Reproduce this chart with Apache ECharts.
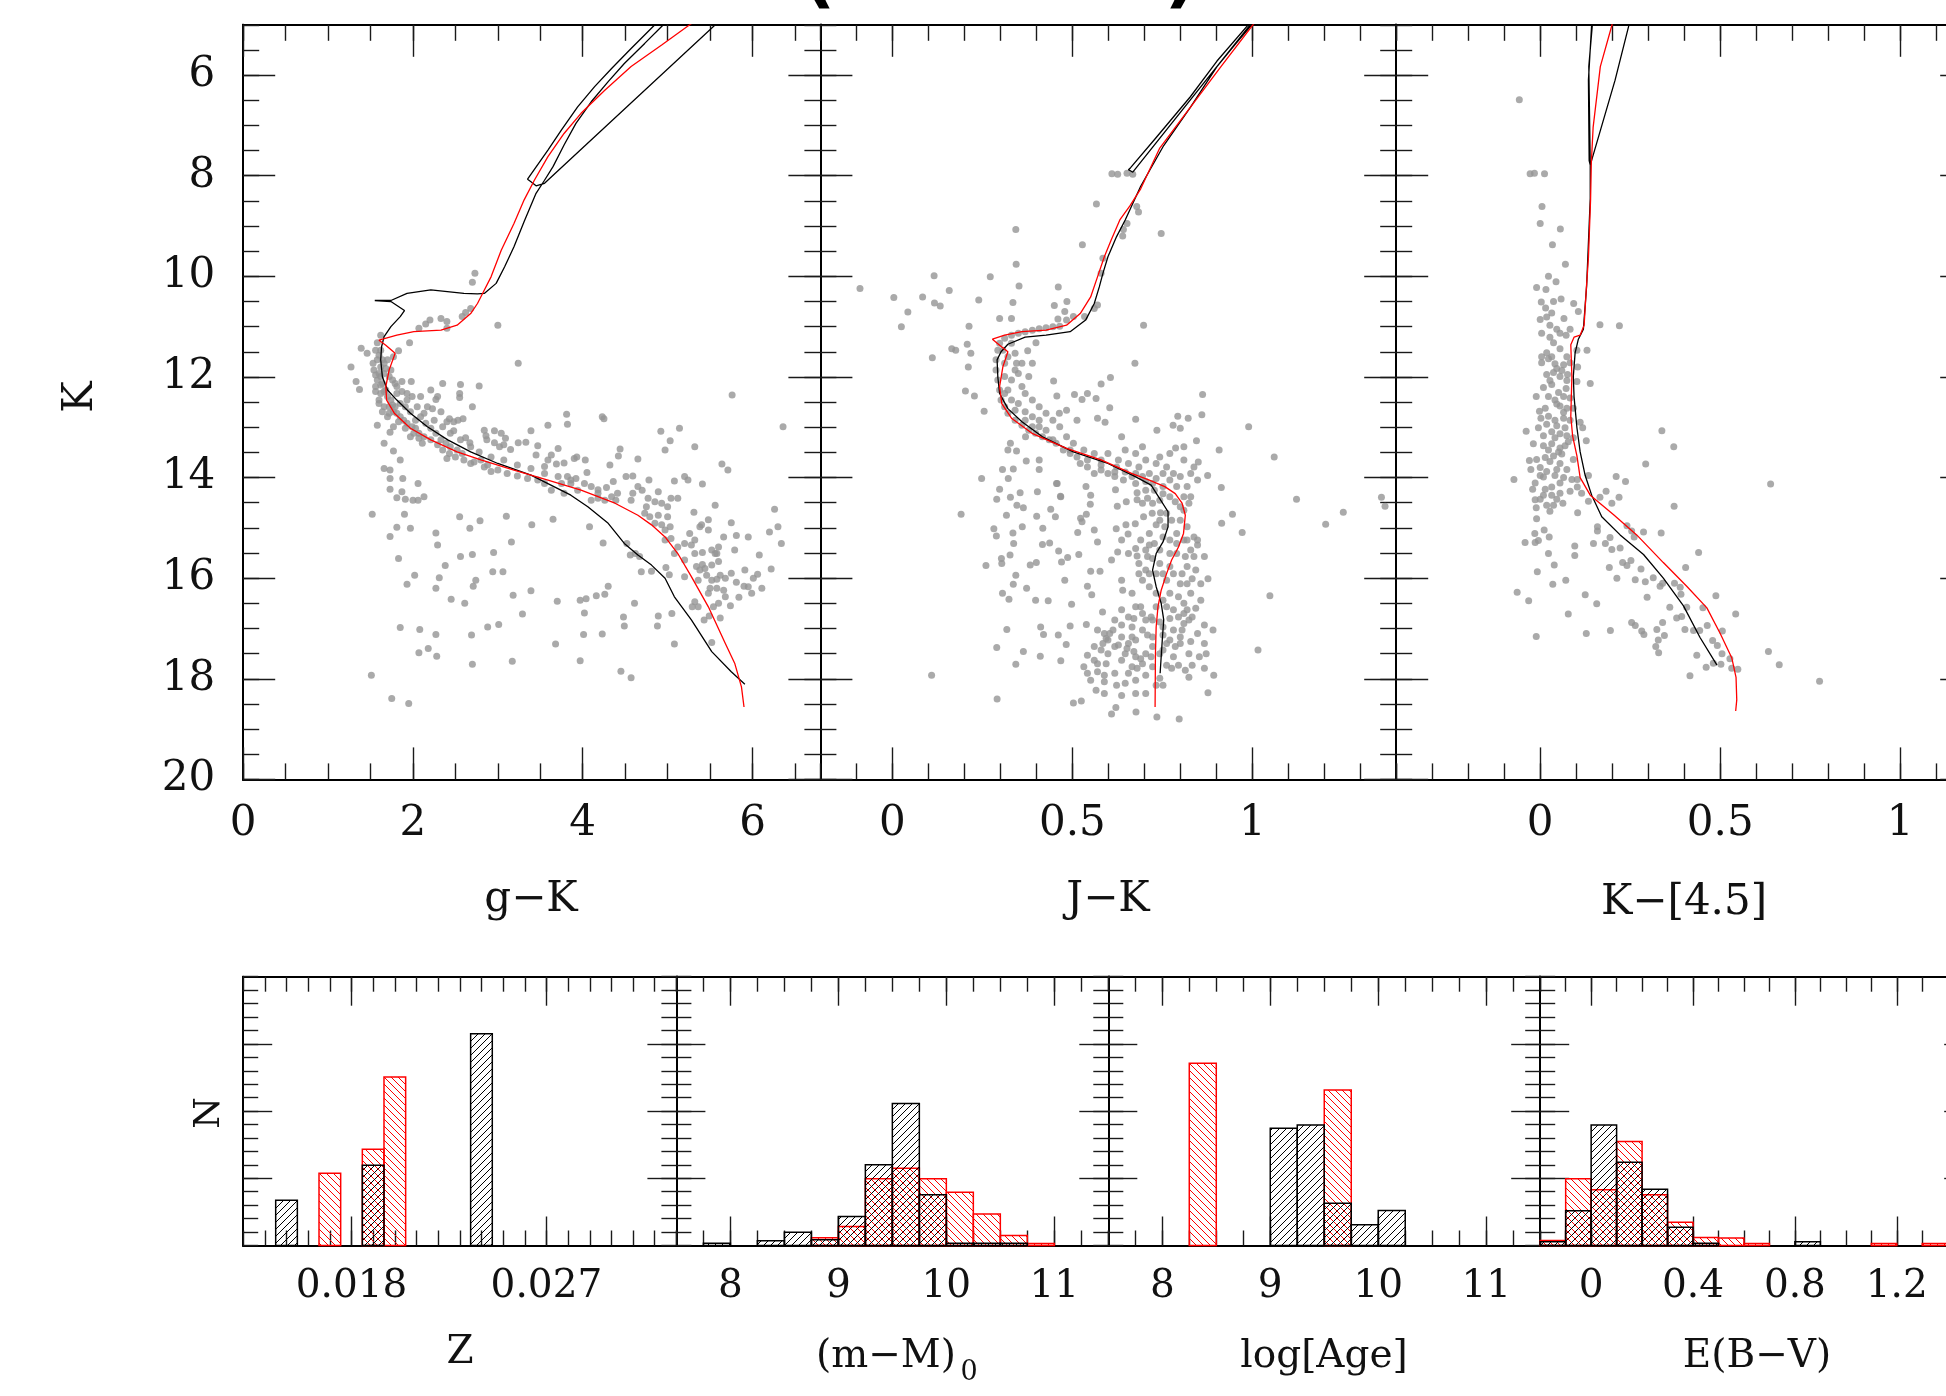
<!DOCTYPE html>
<html>
<head>
<meta charset="utf-8">
<title>Isochrone fits</title>
<script src="https://cdn.jsdelivr.net/npm/echarts@6/dist/echarts.min.js"></script>
<style>
  html, body { margin: 0; padding: 0; background: #fff; overflow: hidden; }
  /* wider than the window: the right-most panels run past the page edge, as in the original */
  #chart { width: 2000px; height: 1396px; }
</style>
</head>
<body>
<div id="chart"></div>
<script>
// ---------------- data: colour-magnitude diagrams (K vs colour) ----------------
const gkStars = [[2.73,9.94],[2.70,10.12],[2.68,10.64],[2.62,10.72],[2.58,10.80],[2.40,10.90],[2.33,10.84],[2.20,10.87],[2.15,10.95],[2.07,11.03],[2.40,11.03],[3.00,10.97],[1.96,11.32],[1.62,11.17],[1.58,11.32],[1.39,11.43],[1.46,11.53],[1.27,11.80],[1.33,12.09],[1.37,12.25],[3.24,11.73],[1.83,11.48],[1.77,11.60],[1.53,11.73],[1.54,11.86],[1.62,11.80],[1.66,11.93],[1.58,12.06],[1.56,12.19],[1.62,12.33],[1.60,12.46],[1.66,12.59],[1.72,12.72],[1.58,12.96],[1.66,13.32],[1.73,13.10],[1.77,13.47],[1.85,13.65],[1.66,13.82],[1.73,13.85],[1.73,14.02],[1.73,14.23],[1.88,14.02],[1.87,14.28],[1.81,14.40],[1.91,14.43],[2.00,14.45],[2.06,14.45],[2.13,14.38],[2.06,14.12],[1.52,14.73],[1.90,14.73],[1.97,15.01],[1.81,14.99],[1.73,15.17],[1.83,15.61],[2.27,15.10],[2.29,15.34],[2.02,15.94],[1.93,16.12],[2.38,15.75],[2.31,15.99],[2.27,16.20],[2.45,16.42],[2.61,16.50],[2.74,16.04],[2.71,16.16],[2.55,14.78],[2.67,15.01],[2.79,14.86],[2.56,15.57],[2.70,15.53],[2.95,15.49],[2.94,15.87],[3.06,15.87],[3.10,14.77],[3.16,15.28],[3.40,14.94],[3.65,14.83],[3.18,16.34],[3.39,16.25],[3.29,16.71],[3.70,16.46],[3.97,16.44],[4.04,16.41],[4.16,16.35],[4.26,16.32],[4.30,16.16],[4.02,16.69],[1.85,16.98],[2.08,17.02],[2.27,17.12],[2.69,17.13],[2.88,16.97],[3.01,16.92],[2.07,17.48],[2.18,17.40],[2.28,17.55],[2.70,17.71],[3.17,17.65],[3.68,17.31],[3.97,17.64],[4.01,17.12],[4.23,17.11],[4.48,16.77],[4.49,16.95],[4.45,17.85],[4.57,17.98],[4.61,16.50],[4.88,16.95],[4.89,16.75],[5.08,17.31],[1.51,17.93],[1.75,18.39],[1.95,18.49],[5.05,16.70],[4.98,15.79],[5.02,15.93],[4.69,15.87],[4.81,15.86],[4.56,15.54],[4.62,15.51],[4.67,15.57],[4.52,15.31],[4.24,15.30],[4.08,14.98],
  [1.81,12.19],[1.87,12.09],[1.98,12.09],[1.93,12.33],[1.99,12.39],[2.09,12.39],[2.21,12.26],[2.35,12.13],[2.56,12.15],[2.78,12.18],[2.55,12.33],[2.55,12.41],[2.29,12.39],[2.27,12.45],[2.17,12.59],[2.23,12.63],[2.33,12.69],[2.40,12.89],[2.48,12.89],[2.53,12.86],[2.59,12.83],[2.70,12.59],[2.43,12.83],[2.48,13.07],[2.62,13.21],[2.67,13.31],[2.84,13.06],[2.86,13.17],[2.96,13.07],[3.04,13.12],[3.09,13.22],[2.96,13.31],[2.87,13.25],[3.02,13.39],[3.07,13.35],[3.15,13.44],[3.24,13.31],[3.33,13.30],[3.39,13.07],[3.47,13.37],[3.59,12.96],[3.81,12.74],[3.82,12.94],[4.23,12.79],[4.25,12.83],[3.71,13.42],[3.63,13.55],[3.59,13.65],[3.45,13.55],[3.55,13.78],[3.69,13.73],[3.78,13.71],[3.90,13.62],[3.93,13.59],[4.03,13.65],[4.05,13.90],[3.92,14.02],[3.82,13.98],[3.75,14.12],[3.86,14.12],[3.63,14.25],[3.78,14.31],[3.94,14.25],[4.10,14.18],[4.18,14.24],[4.28,14.20],[4.36,14.08],[4.42,13.57],[4.44,13.43],[4.65,13.63],[4.32,13.75],[4.10,14.45],[4.18,14.41],[4.26,14.45],[4.34,14.38],[4.39,14.45],[4.51,13.98],[4.59,13.97],[4.78,14.05],[4.89,14.28],[5.08,14.07],[5.20,13.98],[5.24,14.05],[5.41,14.13],[5.32,13.39],[5.14,13.02],[4.92,13.08],[5.03,13.27],[4.97,13.45],[4.65,14.18],[4.59,14.31],[4.70,14.25],[4.77,14.41],[4.85,14.48],[4.93,14.51],[5.00,14.58],[5.04,14.41],[5.12,14.41],[4.75,14.58],[4.79,14.78],[4.89,14.75],[5.00,14.78],[4.93,14.94],[5.03,14.98],[4.97,15.04],[5.04,15.21],[5.12,15.38],[5.20,15.31],[5.28,15.34],[5.32,15.51],[5.41,15.49],[5.52,15.44],[5.60,15.38],[5.56,15.51],[5.31,14.69],[5.38,14.98],[5.40,14.94],[5.48,14.84],[5.56,14.55],[5.48,15.04],[5.26,15.11],[5.32,15.24],[5.75,14.90],[5.66,15.18],[5.81,15.15],[5.64,13.73],[5.71,13.85],[5.76,12.36],[6.36,12.99],[6.26,14.63],[6.30,14.98],[6.20,15.08],[6.34,15.31],[6.08,15.54],[6.22,15.82],[6.06,15.92],[6.01,16.00],[5.95,16.17],[5.90,16.16],[5.81,16.08],[6.11,16.20],[5.84,16.38],[5.74,16.55],[5.60,16.50],[5.54,16.57],[5.49,16.75],[5.62,16.79],[5.43,16.83],[5.52,17.28],[5.29,16.57],[5.32,16.47],[5.41,15.73],[5.34,15.77],[5.38,15.84],[5.44,15.81],[5.52,15.74],[5.52,16.04],[5.58,16.02],[5.62,15.94],[5.68,16.00],[5.66,16.24],[5.58,16.20],[5.50,16.20],[5.46,15.94],[5.60,15.67],[5.58,15.51],
  [1.58,11.66],[1.60,11.93],[1.62,11.99],[1.64,12.13],[1.68,12.26],[1.70,12.39],[1.74,12.46],[1.76,12.56],[1.79,12.59],[1.81,12.72],[1.85,12.79],[1.89,12.86],[1.93,12.92],[1.99,12.99],[2.03,13.02],[2.07,13.12],[2.13,13.19],[2.21,13.25],[2.29,13.35],[2.35,13.45],[2.43,13.52],[2.50,13.59],[2.60,13.65],[2.72,13.69],[2.84,13.79],[2.92,13.88],[3.00,13.85],[3.11,13.92],[3.23,13.97],[3.35,14.02],[3.47,14.05],[3.55,14.12],[1.64,11.66],[1.72,11.99],[1.76,12.06],[1.81,12.33],[1.85,12.53],[1.91,12.59],[1.97,12.69],[2.03,12.86],[2.09,12.79],[2.15,12.92],[2.21,13.02],[2.27,13.12],[2.33,13.25],[2.39,13.32],[2.44,13.39],[2.52,13.45],[2.58,13.52],[1.97,13.19],[2.07,13.22],[1.56,12.29],[1.60,12.53],[1.64,12.69],[1.70,12.79],[1.77,12.99],[1.56,11.47],[1.60,11.57],[1.66,11.73],[1.68,11.83],[1.56,11.96],[1.62,12.16],[1.66,12.29],[1.72,12.59],[1.77,12.69],[1.83,12.89],[1.91,13.02],[2.01,13.12],[2.11,13.32],[2.40,13.62],[2.68,13.72],[2.80,13.65],[2.88,13.75],
  [1.62,11.47],[1.70,11.66],[1.74,11.86],[1.79,12.13],[1.87,12.29],[1.93,12.46],[2.05,12.59],[2.13,12.72],[2.25,12.86],[2.35,12.99],[2.44,13.12],[2.56,13.25],[2.68,13.39],[2.78,13.49],[2.92,13.59],[3.07,13.65],[3.23,13.75],[3.39,13.82],[3.55,13.92],[3.71,13.98],[3.86,14.05],[4.02,14.12],[4.18,14.31],[4.41,14.31],[4.57,14.45],[4.73,14.71],[4.85,14.91],[4.97,15.24],[5.08,15.51],[5.20,15.64],[5.36,16.04],[5.48,16.30],[5.68,16.37],[5.75,15.90],[5.91,15.84],[5.99,16.30],[5.36,16.57],[5.20,15.97],[5.79,15.44],[5.95,15.18]];

const jkStars = [[0.343,9.07],[0.747,9.15],[0.528,9.37],[0.344,9.76],[0.116,9.99],[0.272,10.01],[0.352,10.19],[-0.09,10.24],[0.004,10.42],[0.084,10.41],[0.158,10.28],[0.240,10.47],[0.117,10.53],[0.133,10.59],[0.043,10.71],[0.025,11.00],[0.213,10.99],[0.335,10.52],[0.461,10.21],[0.485,10.50],[0.450,10.58],[0.479,10.70],[0.460,10.85],[0.298,10.84],[0.331,10.84],[0.698,10.97],[0.570,10.57],[0.561,10.64],[0.534,10.80],[0.580,9.94],[0.585,9.64],[0.640,9.20],[0.652,8.95],[0.165,11.44],[0.176,11.47],[0.208,11.35],[0.218,11.53],[0.111,11.62],[0.211,11.80],[0.203,12.28],[0.228,12.38],[0.255,12.68],[0.399,11.32],[0.376,11.48],[0.389,11.73],[0.674,11.73],[0.606,12.01],[0.580,12.14],[0.448,12.08],[0.457,12.38],[0.506,12.35],[0.542,12.33],[0.566,12.43],[0.527,12.45],[0.604,12.61],[0.862,12.35],[0.860,12.75],[0.793,12.78],[0.822,12.82],[0.990,12.99],[1.061,13.59],[0.908,13.45],[0.845,13.27],[0.810,13.39],[0.787,13.41],[0.735,13.06],[0.780,12.96],[0.800,13.02],[0.676,12.84],[0.591,12.90],[0.570,12.82],[0.513,12.86],[0.484,12.66],[0.464,12.72],[1.123,14.43],[1.253,14.69],[1.359,14.39],[1.369,14.57],[1.204,14.93],[0.945,14.73],[0.915,14.91],[0.972,15.09],[0.914,14.20],[0.876,13.96],[0.848,14.05],[0.850,13.69],[0.838,13.79],[1.049,16.35],[1.016,17.43],[0.109,17.93],[0.291,18.40],[0.877,18.28],[0.797,18.80],[0.735,18.76],[0.677,18.66],[0.609,18.70],[0.621,18.57],[0.525,18.44],[0.503,18.48],[0.191,14.73],[0.248,14.02],[0.260,15.75],[0.303,15.61],[0.290,17.38],[0.343,17.71],[0.364,17.46],[0.318,17.02],[0.411,17.55],[0.468,17.64],[0.412,16.97],[0.420,17.12],[0.461,17.13],[0.483,17.32],[0.494,16.95],[0.539,16.92],[0.306,16.30],[0.324,16.42],[0.398,16.44],[0.433,16.45],[0.498,16.52],[0.373,16.20],[0.336,16.12],[0.343,15.94],[0.282,15.02],[0.289,15.16],[0.335,15.10],[0.337,15.31],[0.361,14.98],[0.304,15.71],[0.327,15.54],[0.383,15.74],[0.400,15.69],[0.418,15.01],[0.417,15.33],[0.437,15.30],[0.462,15.46],[0.470,15.68],[0.487,15.59],[0.518,15.53],[0.515,15.09],[0.479,16.04],[0.542,16.16],[0.554,16.33],[0.551,15.86],[0.577,15.86],[0.640,16.24],[0.570,15.28],[0.561,15.04],[0.527,14.88],[0.539,14.73],[0.523,14.81],[0.550,14.53],[0.551,14.35],[0.468,14.38],[0.458,14.12],[0.440,14.63],[0.453,14.78],[0.401,14.77],[0.403,14.28],[0.355,14.30],[0.328,14.39],[0.298,14.23],[0.290,14.43],[0.346,14.55],[0.364,14.60],[0.317,14.75],[0.322,14.02],[0.306,13.84],[0.336,13.83],[0.372,13.67],[0.408,13.65],[0.408,13.84],[0.345,13.47],[0.321,13.45],[0.328,13.32],[0.370,13.19],[0.456,14.12],[0.467,14.37],[0.538,14.18],[0.620,14.24],[0.625,14.57],[0.650,14.48],[0.676,14.12],[0.649,14.94],[0.675,14.92],[0.622,15.02],[0.655,15.12],[0.626,15.48],[0.680,15.56],[0.709,15.57],[0.714,15.34],[0.728,15.31],[0.733,14.94],[0.757,14.98],[0.762,14.71],[0.745,14.70],[0.722,14.71],[0.698,14.78],[0.695,14.51],[0.709,14.41],[0.728,14.25],[0.680,14.44],[0.680,14.30],[0.666,13.98],[0.642,14.05],[0.618,13.98],[0.599,13.92],[0.623,13.79],[0.647,13.89],[0.580,13.85],[0.561,13.92],[0.542,13.79],[0.522,13.72],[0.513,13.59],[0.494,13.52],[0.475,13.45],[0.455,13.32],[0.436,13.25],[0.417,13.19],[0.398,13.12],[0.379,13.06],[0.360,12.96],[0.341,12.86],[0.321,12.72],[0.312,12.59],[0.302,12.46],[0.298,12.26],[0.293,12.06],[0.288,11.86],[0.288,11.66],[0.293,11.47],[0.298,11.33],[0.312,11.23],[0.331,11.17],[0.350,11.13],[0.369,11.10],[0.389,11.07],[0.408,11.04],[0.427,11.02],[0.446,11.00],[0.465,10.99],[0.484,10.87],[0.503,10.80],[0.331,11.33],[0.341,11.53],[0.345,11.73],[0.350,11.93],[0.331,12.06],[0.360,12.19],[0.321,12.26],[0.369,12.33],[0.389,12.46],[0.408,12.59],[0.427,12.72],[0.446,12.86],[0.465,12.99],[0.408,12.86],[0.389,12.79],[0.369,12.69],[0.350,12.53],[0.331,12.46],[0.389,12.99],[0.427,13.06],[0.484,13.19],[0.503,13.32],[0.532,13.45],[0.561,13.52],[0.580,13.65],[0.599,13.52],[0.628,13.65],[0.656,13.72],[0.637,13.19],[0.647,13.45],[0.676,13.52],[0.704,13.65],[0.695,13.39],[0.733,13.72],[0.752,13.92],[0.771,14.05],[0.790,14.18],[0.810,14.38],[0.824,14.51],[0.810,14.65],[0.800,14.85],[0.790,15.11],[0.810,15.24],[0.829,15.44],[0.848,15.34],[0.838,15.57],[0.819,15.77],[0.790,15.51],[0.781,15.91],[0.762,16.04],[0.800,16.11],[0.829,16.30],[0.857,16.44],[0.810,16.50],[0.781,16.63],[0.752,16.44],[0.733,16.30],[0.714,16.17],[0.695,16.04],[0.704,15.84],[0.685,15.71],[0.877,16.01],[0.843,15.84],[0.833,16.77],[0.810,16.90],[0.781,17.03],[0.752,16.97],[0.723,16.83],[0.695,16.70],[0.676,16.57],[0.656,16.77],[0.637,16.63],[0.618,16.83],[0.666,16.97],[0.695,17.03],[0.723,17.17],[0.771,17.23],[0.800,17.17],[0.848,17.10],[0.867,16.93],[0.891,17.03],[0.872,17.50],[0.824,17.50],[0.800,17.30],[0.781,17.56],[0.752,17.43],[0.723,17.36],[0.704,17.50],[0.676,17.56],[0.647,17.50],[0.618,17.36],[0.599,17.23],[0.589,17.10],[0.570,17.03],[0.585,17.30],[0.599,17.50],[0.637,17.63],[0.666,17.76],[0.695,17.70],[0.723,17.76],[0.762,17.73],[0.795,17.73],[0.833,17.73],[0.867,17.79],[0.893,17.93],[0.824,17.97],[0.743,17.99],[0.704,17.93],[0.676,18.03],[0.647,18.09],[0.618,17.89],[0.589,17.93],[0.570,17.86],[0.551,18.03],[0.542,17.89],[0.570,17.70],[0.594,17.70],[0.566,18.23],[0.589,18.29],[0.637,18.33],[0.676,18.29],[0.704,18.29],[0.752,18.13],[0.542,17.53],[0.561,17.36],[0.637,17.17],[0.676,17.23],[0.656,17.30],[0.704,16.83],[0.666,16.30],[0.637,16.04],[0.609,15.64],[0.656,15.51],[0.637,15.24],[0.685,15.91],[0.714,15.91],[0.743,15.71],[0.771,15.51],[0.771,15.24],[0.819,14.98],[0.838,15.18],[0.867,15.57],[0.857,16.11],[0.819,16.11],[0.743,15.44],[0.733,15.91],[0.762,16.57],[0.810,16.70],[0.723,14.51],[0.743,14.45],[0.771,14.38],[0.752,14.18],[0.723,14.12],[0.704,14.25],[0.695,13.98],[0.685,13.79],[0.714,13.92],[0.743,13.59],[0.762,13.79],[0.781,13.92],[0.800,13.98],[0.829,13.92],[0.819,14.18],[0.771,13.52],[0.810,13.65],[0.829,14.38],[0.848,15.24],[0.743,14.85],[0.610,7.96],[0.626,7.97],[0.652,7.95],[0.668,7.97],[0.567,8.56],[0.679,8.61],[0.684,8.72],[0.642,9.07],
  [0.584,16.67],[0.604,17.10],[0.628,17.33],[0.652,17.40],[0.671,17.46],[0.690,17.60],[0.719,17.56],[0.743,17.50],[0.762,17.30],[0.786,17.36],[0.805,17.03],[0.824,16.83],[0.795,16.77],[0.771,16.80],[0.743,16.87],[0.719,16.77],[0.690,16.57],[0.671,16.80],[0.637,16.93],[0.613,17.03],[0.594,17.20],[0.580,17.43],[0.561,17.63],[0.532,17.76],[0.589,18.06],[0.623,18.13],[0.656,17.89],[0.680,17.79],[0.733,18.13],[0.776,17.79],[0.814,17.83],[0.853,17.56],[0.867,17.30],[0.829,17.26],[0.752,17.13],[0.709,17.13],[0.666,17.17],[0.733,16.57],[0.771,16.30],[0.795,16.37],[0.819,16.63],[0.843,16.60],[0.752,15.91],[0.771,15.77],[0.814,15.57],[0.790,15.31],[0.819,15.24],[0.776,14.85],[0.752,15.18],[0.714,15.11],[0.690,15.24],[0.676,15.41],[0.704,15.44],[0.723,15.61],[0.805,15.91],[0.833,16.01],[0.800,14.58],[0.786,14.48],[0.752,14.32],[0.733,14.02],[0.704,14.08],[0.676,13.92],[0.618,13.89],[0.580,13.75],[0.542,13.65],[0.494,13.45],[0.446,13.25],[0.408,12.99],[0.369,12.86],[0.341,12.66],[0.312,12.33],[0.312,11.99],[0.312,11.73],[0.307,11.47],[0.321,11.60],[0.341,11.86],[0.360,11.73],[0.379,11.99]];

const k45Stars = [[-0.058,6.49],[-0.028,7.96],[-0.016,7.95],[0.012,7.96],[0.005,8.61],[0.000,8.95],[0.056,9.06],[0.034,9.37],[0.070,9.76],[0.023,10.00],[0.044,10.11],[-0.010,10.22],[0.016,10.26],[0.058,10.45],[0.093,10.54],[0.106,10.70],[0.003,10.51],[0.015,10.63],[0.032,10.73],[0.000,10.86],[0.066,10.84],[0.166,10.96],[0.220,10.98],[0.027,10.97],[0.046,11.05],[0.004,11.13],[0.027,11.21],[0.055,11.13],[0.072,11.17],[0.037,11.32],[0.055,11.44],[0.102,11.47],[0.130,11.47],[0.004,11.72],[0.023,11.64],[0.041,11.74],[0.065,11.76],[0.083,11.72],[0.104,11.80],[0.018,11.95],[0.037,11.91],[0.055,11.99],[0.076,11.95],[0.102,12.09],[0.139,12.13],[0.009,12.21],[0.032,12.15],[0.051,12.31],[0.072,12.23],[-0.011,12.39],[0.023,12.39],[0.041,12.46],[0.065,12.39],[0.083,12.42],[0.014,12.62],[0.055,12.58],[0.074,12.62],[0.092,12.62],[-0.002,12.68],[0.002,12.82],[0.023,12.78],[0.041,12.86],[0.065,12.82],[0.083,12.86],[0.111,12.90],[-0.039,13.08],[-0.005,13.01],[0.009,13.17],[0.032,13.09],[0.055,13.13],[0.074,13.17],[0.092,13.21],[0.118,13.01],[-0.019,13.33],[0.009,13.37],[0.032,13.33],[0.055,13.41],[0.078,13.29],[0.128,13.27],[-0.030,13.66],[-0.010,13.64],[0.014,13.60],[0.037,13.57],[0.060,13.53],[0.092,13.64],[-0.026,13.84],[0.000,13.80],[0.018,13.88],[0.046,13.84],[0.074,13.84],[-0.073,14.04],[-0.014,14.11],[0.009,13.99],[0.032,14.19],[0.055,14.11],[0.088,14.04],[0.103,14.04],[-0.021,14.23],[0.009,14.35],[0.032,14.35],[0.055,14.31],[0.018,14.55],[0.037,14.55],[0.063,14.51],[-0.014,14.44],[-0.011,14.60],[0.103,14.19],[0.134,13.96],[0.115,14.31],[0.134,14.47],[0.166,14.39],[0.183,14.27],[0.199,14.51],[0.219,14.39],[0.211,13.98],[0.237,14.08],[0.293,13.73],[0.338,13.07],[0.371,13.39],[0.372,14.57],[0.640,14.13],[0.104,14.70],[-0.010,14.82],[0.011,15.04],[-0.015,15.11],[0.025,15.18],[-0.042,15.29],[-0.005,15.25],[0.023,15.51],[0.039,15.74],[-0.008,15.87],[0.035,16.12],[-0.064,16.28],[-0.032,16.45],[-0.011,17.16],[0.071,16.04],[0.096,15.36],[0.096,15.55],[0.125,16.33],[0.128,17.10],[0.157,16.51],[0.078,16.71],[0.148,15.31],[0.159,14.98],[0.159,15.06],[0.181,15.31],[0.194,15.19],[0.199,15.43],[0.222,15.40],[0.229,15.69],[0.241,15.75],[0.252,15.65],[0.261,15.18],[0.241,14.96],[0.254,15.06],[0.287,15.08],[0.264,16.03],[0.280,15.82],[0.292,16.07],[0.213,16.00],[0.192,15.79],[0.297,16.38],[0.314,15.99],[0.333,16.16],[0.340,16.10],[0.336,15.10],[0.373,16.10],[0.389,16.18],[0.391,16.32],[0.404,15.79],[0.360,16.58],[0.379,16.79],[0.393,16.76],[0.407,16.58],[0.440,15.49],[0.452,16.59],[0.488,16.35],[0.464,16.94],[0.402,17.02],[0.426,17.04],[0.443,17.04],[0.479,17.24],[0.506,17.05],[0.543,16.71],[0.492,17.34],[0.505,17.50],[0.435,17.53],[0.461,17.77],[0.481,17.69],[0.502,17.71],[0.527,17.60],[0.532,17.79],[0.549,17.81],[0.416,17.94],[0.340,16.88],[0.324,17.02],[0.345,17.14],[0.328,17.23],[0.321,17.36],[0.329,17.48],[0.254,16.88],[0.264,16.94],[0.282,17.05],[0.288,17.12],[0.195,17.04],[0.634,17.46],[0.664,17.72],[0.776,18.05],[-0.014,15.29],
  [0.018,11.52],[0.032,11.60],[0.046,11.83],[0.060,11.87],[0.074,12.07],[0.027,12.07],[0.046,12.54],[0.065,12.70],[0.018,12.94],[0.046,12.97],[0.069,13.01],[0.041,13.21],[0.023,13.45],[0.051,13.49],[0.069,13.37],[0.027,13.68],[0.055,13.72],[0.000,13.96],[0.041,13.96],[0.065,14.00],[0.014,14.23],[0.046,14.43],[0.083,14.27],[0.000,14.43],[0.027,14.67],[0.004,11.60],[0.083,11.05],[0.018,10.81],[0.037,10.50],[0.074,11.60]];

// isochrones (black = first solution, red = second solution)
const gkIsoBlack = [[5.91,18.11],[5.75,17.86],[5.52,17.46],[5.28,16.83],[5.08,16.37],[4.97,16.0],[4.81,15.74],[4.65,15.54],[4.49,15.31],[4.30,14.91],[4.06,14.58],[3.86,14.35],[3.39,13.95],[3.00,13.72],[2.68,13.49],[2.41,13.25],[2.17,12.99],[1.97,12.72],[1.81,12.46],[1.70,12.26],[1.64,12.0],[1.62,11.66],[1.63,11.40],[1.66,11.20],[1.74,11.0],[1.85,10.80],[1.90,10.68],[1.74,10.50],[1.55,10.48],[1.74,10.48],[1.93,10.34],[2.21,10.27],[2.60,10.34],[2.76,10.35],[2.84,10.34],[2.98,10.14],[3.08,9.81],[3.19,9.41],[3.31,8.91],[3.45,8.35],[3.55,8.09],[3.65,7.82],[3.78,7.39],[3.92,6.96],[4.10,6.53],[4.30,6.13],[4.49,5.77],[4.73,5.37],[4.95,5.0],[5.54,4.0],[6.20,4.0],[3.55,8.15],[3.45,8.2],[3.39,8.12],[3.35,8.07],[3.59,7.49],[3.75,7.09],[3.94,6.63],[4.14,6.23],[4.34,5.87],[4.57,5.47],[4.85,5.0],[5.1,4.6]];
const gkIsoRed = [[5.90,18.56],[5.87,18.16],[5.79,17.69],[5.68,17.30],[5.48,16.57],[5.28,15.97],[5.12,15.51],[4.97,15.18],[4.81,14.94],[4.65,14.75],[4.38,14.51],[3.98,14.25],[3.59,14.05],[3.19,13.85],[2.80,13.65],[2.52,13.49],[2.21,13.25],[1.97,13.02],[1.78,12.72],[1.69,12.46],[1.68,12.19],[1.72,11.86],[1.79,11.53],[1.68,11.37],[1.60,11.27],[1.81,11.17],[2.01,11.10],[2.33,11.07],[2.52,10.97],[2.68,10.74],[2.76,10.54],[2.82,10.34],[2.92,10.01],[3.04,9.48],[3.19,8.95],[3.31,8.48],[3.43,8.09],[3.59,7.62],[3.78,7.16],[3.98,6.76],[4.26,6.30],[4.57,5.83],[4.93,5.40],[5.26,5.0],[5.6,4.6]];
const jkIsoBlack = [[0.744,17.89],[0.750,17.23],[0.754,16.83],[0.747,16.50],[0.733,16.17],[0.723,15.84],[0.733,15.51],[0.752,15.28],[0.766,14.98],[0.766,14.68],[0.742,14.41],[0.719,14.15],[0.675,13.98],[0.599,13.72],[0.503,13.49],[0.417,13.19],[0.360,12.89],[0.321,12.63],[0.298,12.33],[0.293,12.0],[0.291,11.66],[0.302,11.50],[0.321,11.35],[0.369,11.21],[0.427,11.17],[0.494,11.10],[0.537,10.87],[0.561,10.54],[0.575,10.21],[0.585,9.94],[0.599,9.61],[0.623,9.21],[0.647,8.88],[0.690,8.21],[0.754,7.40],[0.828,6.64],[0.902,5.83],[0.955,5.37],[1.0,4.99],[1.05,4.5],[1.047,4.5],[0.668,7.93],[0.656,7.88],[0.662,7.84],[0.732,7.25],[0.828,6.43],[0.902,5.72],[0.99,4.99],[1.03,4.6]];
const jkIsoRed = [[0.730,18.56],[0.731,17.50],[0.733,16.97],[0.738,16.57],[0.747,16.24],[0.762,15.91],[0.776,15.64],[0.795,15.38],[0.809,15.11],[0.814,14.75],[0.805,14.51],[0.786,14.32],[0.757,14.18],[0.714,14.05],[0.666,13.92],[0.580,13.65],[0.484,13.42],[0.388,13.12],[0.331,12.82],[0.304,12.53],[0.298,12.19],[0.307,11.80],[0.321,11.50],[0.298,11.37],[0.278,11.25],[0.312,11.17],[0.360,11.10],[0.427,11.07],[0.484,10.97],[0.522,10.74],[0.551,10.41],[0.570,10.01],[0.589,9.61],[0.608,9.28],[0.632,8.88],[0.660,8.60],[0.690,8.26],[0.743,7.45],[0.807,6.84],[0.913,5.83],[1.003,4.99],[1.04,4.6]];
const k45IsoBlack = [[0.491,17.73],[0.444,17.18],[0.398,16.55],[0.342,16.00],[0.287,15.53],[0.222,15.14],[0.171,14.78],[0.143,14.35],[0.125,13.96],[0.111,13.49],[0.102,13.01],[0.094,12.39],[0.092,11.99],[0.097,11.52],[0.106,11.25],[0.120,11.05],[0.129,10.19],[0.139,8.46],[0.139,7.75],[0.135,5.83],[0.145,4.99],[0.15,4.5],[0.27,4.5],[0.247,4.99],[0.208,6.10],[0.139,7.79],[0.136,7.7],[0.134,6.10],[0.143,4.99],[0.145,4.5]];
const k45IsoRed = [[0.543,18.64],[0.546,18.42],[0.544,17.97],[0.532,17.58],[0.500,17.10],[0.463,16.59],[0.407,16.16],[0.342,15.69],[0.268,15.14],[0.204,14.74],[0.139,14.35],[0.111,14.00],[0.102,13.57],[0.090,13.17],[0.085,12.78],[0.088,11.99],[0.085,11.36],[0.094,11.21],[0.111,11.17],[0.122,10.97],[0.128,10.26],[0.134,9.63],[0.140,8.46],[0.142,7.75],[0.147,7.04],[0.167,5.83],[0.200,4.99],[0.21,4.6]];

// ---------------- data: parameter histograms, [bin start, N] ----------------
const zBin = 0.001;
const zBlack = [[0.0145,3.37],[0.0185,5.97],[0.0235,15.76]];
const zRed = [[0.0165,5.38],[0.0185,7.16],[0.0195,12.54]];
const dmBin = 0.25;
const dmBlack = [[7.75,0.17],[8.25,0.35],[8.5,0.99],[8.75,0.42],[9.0,2.16],[9.25,6.0],[9.5,10.56],[9.75,3.77],[10.0,0.17],[10.25,0.17],[10.5,0.17]];
const dmRed = [[8.75,0.57],[9.0,1.41],[9.25,4.96],[9.5,5.75],[9.75,4.96],[10.0,3.97],[10.25,2.35],[10.5,0.74],[10.75,0.15]];
const ageBin = 0.25;
const ageBlack = [[9.0,8.72],[9.25,8.97],[9.5,3.15],[9.75,1.54],[10.0,2.6]];
const ageRed = [[8.25,13.56],[9.5,11.57]];
const ebvBin = 0.1;
const ebvBlack = [[-0.2,0.27],[-0.1,2.58],[0,8.97],[0.1,6.2],[0.2,4.19],[0.3,1.36],[0.4,0.17],[0.8,0.27]];
const ebvRed = [[-0.2,0.37],[-0.1,4.96],[0,4.14],[0.1,7.73],[0.2,3.77],[0.3,1.73],[0.4,0.59],[0.5,0.55],[0.6,0.15],[1.1,0.15],[1.3,0.15]];

// ---------------- axis ranges and tick labels ----------------
const kRange = [5, 20];       const kTicks = [6, 8, 10, 12, 14, 16, 18, 20];
const gkRange = [0, 6.8];     const gkTicks = [0, 2, 4, 6];
const jkRange = [-0.2, 1.4];  const jkTicks = [0, 0.5, 1];
const k45Range = [-0.4, 1.2]; const k45Ticks = [0, 0.5, 1];
const nRange = [0, 20];       const nTicks = [5, 10, 15];
const zRange = [0.013, 0.033]; const zTicks = [0.018, 0.027];
const dmRange = [7.5, 11.5];  const dmTicks = [8, 9, 10, 11];
const ageRange = [7.5, 11.5]; const ageTicks = [8, 9, 10, 11];
const ebvRange = [-0.2, 1.5]; const ebvTicks = [0, 0.4, 0.8, 1.2];

const FONT = 'DejaVu Serif';

function steps(range, step) {
    const out = [];
    const first = Math.ceil(range[0] / step - 1e-9);
    for (let i = first; i * step <= range[1] + 1e-9; i++) {
        out.push(+(i * step).toFixed(6));
    }
    return out;
}

function makeAxis(grid, pos, range, inverse, ticks, len, label) {
    const ax = {
        type: 'value', gridIndex: grid, position: pos,
        min: range[0], max: range[1], inverse: inverse,
        axisLine: {show: true, onZero: false, lineStyle: {color: '#000', width: 2}},
        axisTick: {show: true, inside: true, length: len, customValues: ticks,
                   lineStyle: {color: '#1a1a1a', width: 1.4}},
        axisLabel: {show: false},
        splitLine: {show: false}
    };
    if (label) {
        ax.axisLabel = Object.assign({show: true, customValues: ticks, color: '#111',
                                      fontFamily: FONT}, label);
    }
    return ax;
}

const grids = [];
const xAxes = [];
const yAxes = [];

// one boxed panel: ticks inside on all four sides, long major / short minor
function panel(box, xr, xMajor, xStep, yr, yMajor, yStep, yInverse, lens, xLabel, yLabel) {
    const g = grids.length;
    grids.push({left: box[0], top: box[1], width: box[2], height: box[3]});
    const xi = xAxes.length, yi = yAxes.length;
    const xMinor = steps(xr, xStep), yMinor = steps(yr, yStep);
    xAxes.push(
        makeAxis(g, 'bottom', xr, false, xMajor, lens[1], xLabel),
        makeAxis(g, 'bottom', xr, false, xMinor, lens[0]),
        makeAxis(g, 'top', xr, false, xMajor, lens[1]),
        makeAxis(g, 'top', xr, false, xMinor, lens[0])
    );
    yAxes.push(
        makeAxis(g, 'left', yr, yInverse, yMajor, lens[1], yLabel),
        makeAxis(g, 'left', yr, yInverse, yMinor, lens[0]),
        makeAxis(g, 'right', yr, yInverse, yMajor, lens[1]),
        makeAxis(g, 'right', yr, yInverse, yMinor, lens[0])
    );
    return [xi, yi];
}

const topTop = 24.8, topH = 754.6;
const botTop = 976.7, botH = 268.8;
const topLab = {fontSize: 42, margin: 24};
const botLab = {fontSize: 39, margin: 22};

const pGK  = panel([243.2, topTop, 577.2, topH], gkRange, gkTicks, 0.5, kRange, kTicks, 0.5, true, [16, 32], topLab, {fontSize: 42, margin: 28});
const pJK  = panel([820.4, topTop, 575.8, topH], jkRange, jkTicks, 0.1, kRange, kTicks, 0.5, true, [16, 32], topLab);
const pK45 = panel([1396.2, topTop, 576, topH], k45Range, k45Ticks, 0.1, kRange, kTicks, 0.5, true, [16, 32], topLab);
const pZ   = panel([243.2, botTop, 433.2, botH], zRange, zTicks, 0.001, nRange, nTicks, 1, false, [15, 29], botLab);
const pDM  = panel([676.4, botTop, 431.9, botH], dmRange, dmTicks, 0.25, nRange, nTicks, 1, false, [15, 29], botLab);
const pAge = panel([1108.3, botTop, 431.9, botH], ageRange, ageTicks, 0.25, nRange, nTicks, 1, false, [15, 29], botLab);
const pEBV = panel([1540.2, botTop, 433, botH], ebvRange, ebvTicks, 0.1, nRange, nTicks, 1, false, [15, 29], botLab);

// hatching used for the histograms
function hatch(color, forward) {
    const s = 7;
    const c = document.createElement('canvas');
    c.width = s; c.height = s;
    const ctx = c.getContext('2d');
    ctx.strokeStyle = color;
    ctx.lineWidth = 1;
    ctx.beginPath();
    if (forward) {
        ctx.moveTo(-1, s + 1); ctx.lineTo(s + 1, -1);
        ctx.moveTo(-1, 1); ctx.lineTo(1, -1);
        ctx.moveTo(s - 1, s + 1); ctx.lineTo(s + 1, s - 1);
    } else {
        ctx.moveTo(-1, -1); ctx.lineTo(s + 1, s + 1);
        ctx.moveTo(s - 1, -1); ctx.lineTo(s + 1, 1);
        ctx.moveTo(-1, s - 1); ctx.lineTo(1, s + 1);
    }
    ctx.stroke();
    return {image: c, repeat: 'repeat'};
}
const blackHatch = hatch('#000', true);
const redHatch = hatch('#ff0000', false);

function scatter(p, data) {
    return {type: 'scatter', xAxisIndex: p[0], yAxisIndex: p[1], data: data,
            symbolSize: 7, itemStyle: {color: '#959595'}, silent: true};
}
function iso(p, data, color) {
    return {type: 'line', xAxisIndex: p[0], yAxisIndex: p[1], data: data, clip: true,
            showSymbol: false, symbol: 'none', silent: true,
            lineStyle: {color: color, width: 1.3}};
}
function hist(p, data, bin, color, pattern) {
    return {
        type: 'custom', xAxisIndex: p[0], yAxisIndex: p[1], data: data, silent: true,
        renderItem: function (params, api) {
            const lo = api.value(0), n = api.value(1);
            const a = api.coord([lo, n]);
            const b = api.coord([lo + bin, 0]);
            return {
                type: 'rect',
                shape: {x: a[0], y: a[1], width: b[0] - a[0], height: b[1] - a[1]},
                style: {fill: pattern, stroke: color, lineWidth: 1.5}
            };
        }
    };
}

function label(text, x, y, size, rot) {
    return {type: 'text', x: x, y: y, rotation: rot || 0, silent: true,
            style: {text: text, fill: '#111', font: size + 'px "' + FONT + '"',
                    align: 'center', verticalAlign: 'middle',
                    textAlign: 'center', textVerticalAlign: 'middle'}};
}

const chart = echarts.init(document.getElementById('chart'));
chart.setOption({
    backgroundColor: '#fff',
    animation: false,
    grid: grids,
    xAxis: xAxes,
    yAxis: yAxes,
    series: [
        scatter(pGK, gkStars), iso(pGK, gkIsoBlack, '#000'), iso(pGK, gkIsoRed, '#ff0000'),
        scatter(pJK, jkStars), iso(pJK, jkIsoBlack, '#000'), iso(pJK, jkIsoRed, '#ff0000'),
        scatter(pK45, k45Stars), iso(pK45, k45IsoBlack, '#000'), iso(pK45, k45IsoRed, '#ff0000'),
        hist(pZ, zRed, zBin, '#ff0000', redHatch), hist(pZ, zBlack, zBin, '#000', blackHatch),
        hist(pDM, dmRed, dmBin, '#ff0000', redHatch), hist(pDM, dmBlack, dmBin, '#000', blackHatch),
        hist(pAge, ageRed, ageBin, '#ff0000', redHatch), hist(pAge, ageBlack, ageBin, '#000', blackHatch),
        hist(pEBV, ebvRed, ebvBin, '#ff0000', redHatch), hist(pEBV, ebvBlack, ebvBin, '#000', blackHatch)
    ],
    graphic: [
        {type: 'text', x: 819, y: 16, silent: true,
         style: {text: '(', fill: '#000', font: 'bold 72px "DejaVu Sans"', align: 'center', verticalAlign: 'bottom',
                 textAlign: 'center', textVerticalAlign: 'bottom'}},
        {type: 'text', x: 1181, y: 16, silent: true,
         style: {text: ')', fill: '#000', font: 'bold 72px "DejaVu Sans"', align: 'center', verticalAlign: 'bottom',
                 textAlign: 'center', textVerticalAlign: 'bottom'}},
        label('K', 81, 397, 42, Math.PI / 2),
        label('g\u2212K', 531, 900, 42),
        label('J\u2212K', 1108, 900, 42),
        label('K\u2212[4.5]', 1684, 903, 42),
        label('N', 210, 1113, 36, Math.PI / 2),
        label('Z', 460, 1353, 39),
        label('(m\u2212M)', 886, 1357, 39),
        label('0', 969, 1373, 27),
        label('log[Age]', 1324, 1357, 39),
        label('E(B\u2212V)', 1757, 1357, 39)
    ]
});
</script>
</body>
</html>
